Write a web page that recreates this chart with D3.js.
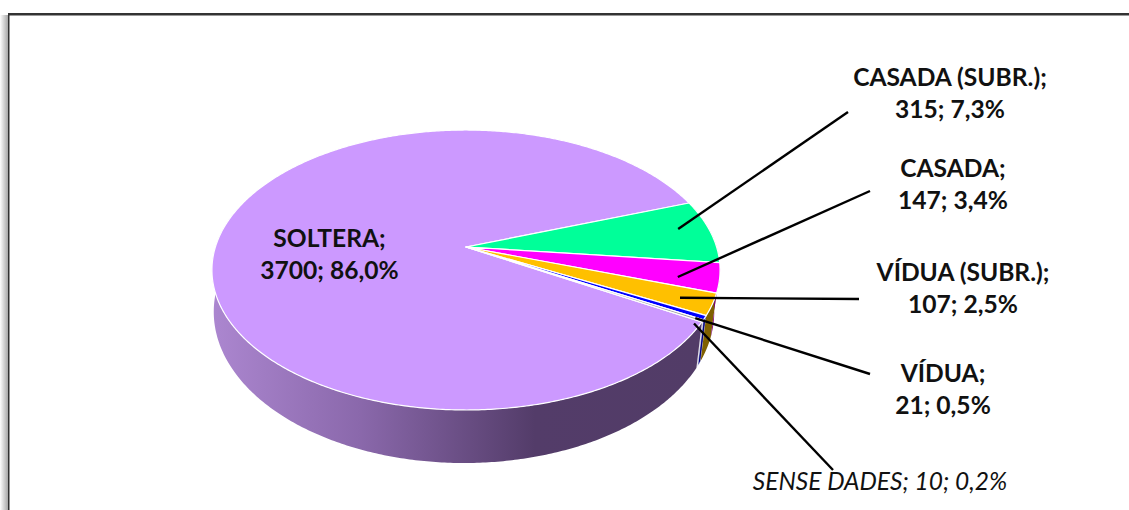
<!DOCTYPE html>
<html>
<head>
<meta charset="utf-8">
<script src="https://cdnjs.cloudflare.com/ajax/libs/d3/7.9.0/d3.min.js"></script>
<style>
    html, body { margin: 0; padding: 0; background: #fff; overflow: hidden; }
    text { font-family: Lato, "Open Sans", sans-serif; fill: #111; }
</style>
</head>
<body>
<div id="chart"></div>
<script>
// values
const categories = ['SOLTERA', 'CASADA (SUBR.)', 'CASADA', 'VÍDUA (SUBR.)', 'VÍDUA', 'SENSE DADES'];
const counts = [3700, 315, 147, 107, 21, 10];
const percents = ['86,0%', '7,3%', '3,4%', '2,5%', '0,5%', '0,2%'];

const topColors = ['#cc99ff', '#00ff99', '#ff00ff', '#ffc000', '#0000ff', '#9a9aa0'];
const wallColors = ['url(#wallGrad)', '#007f4c', '#7f007f', '#7f6000', '#00007f', '#c8c8d8'];

const width = 1129, height = 510;

// pie is tilted with some perspective, so the apex sits above the ellipse centre
const cx = 466, cy = 247;
const radiusX = 250.6, radiusY = 136.2, persp = 0.1643;
const startDeg = 120.3;

// the lower rim of the wall
const bottomCx = 464, bottomScaleX = 0.985, bottomScaleY = 1.08, bottomY = 287;

function project(angle, r = 1) {
    let u = Math.sin(angle) * r, v = -Math.cos(angle) * r;
    let w = 1 - persp * v;
    return [cx + radiusX * u / w, cy + radiusY * v / w];
}

function projectBottom(angle) {
    let p = project(angle);
    return [bottomCx + (p[0] - cx) * bottomScaleX, bottomY + (p[1] - cy) * bottomScaleY];
}

const toRad = Math.PI / 180;
const line = d3.line();

function rimAngles(a0, a1) {
    let n = Math.max(2, Math.ceil(Math.abs(a1 - a0) / 0.01));
    return d3.range(n + 1).map(i => a0 + (a1 - a0) * i / n);
}

const svg = d3.select('#chart').append('svg')
    .attr('width', width)
    .attr('height', height);

const defs = svg.append('defs');

const wallGrad = defs.append('linearGradient')
    .attr('id', 'wallGrad')
    .attr('gradientUnits', 'userSpaceOnUse')
    .attr('x1', 215).attr('x2', 700).attr('y1', 0).attr('y2', 0);
wallGrad.selectAll('stop')
    .data([[0, '#ab86cf'], [0.3, '#8a68ab'], [0.66, '#533c69'], [1, '#523c67']])
    .join('stop')
    .attr('offset', d => d[0])
    .attr('stop-color', d => d[1]);

const shadowLeft = defs.append('linearGradient').attr('id', 'shadowLeft');
shadowLeft.append('stop').attr('offset', 0).attr('stop-color', '#fff');
shadowLeft.append('stop').attr('offset', 1).attr('stop-color', '#a8a8a8');

// frame of the pasted picture: only top and left edges are in view
svg.append('rect')
    .attr('x', 0).attr('y', 15)
    .attr('width', 8).attr('height', height - 15)
    .attr('fill', 'url(#shadowLeft)');
svg.append('rect')
    .attr('x', 8).attr('y', 15)
    .attr('width', width - 8).attr('height', 1)
    .attr('fill', '#999');
svg.append('rect')
    .attr('x', 8).attr('y', 13)
    .attr('width', width - 8).attr('height', 2)
    .attr('fill', '#333');
svg.append('rect')
    .attr('x', 8).attr('y', 13)
    .attr('width', 1.5).attr('height', height - 13)
    .attr('fill', '#333');

const pie = d3.pie()
    .sort(null)
    .startAngle(startDeg * toRad)
    .endAngle((startDeg + 360) * toRad);

const arcs = pie(counts);

// walls first, back to front
const wallSpans = arcs.map((d, i) => {
    // the big slice only shows its wall up to the left edge
    let end = i === 0 ? 285 * toRad : d.endAngle;
    return { i: i, angles: rimAngles(d.startAngle, end) };
});

svg.append('g').selectAll('path')
    .data(wallSpans.slice().reverse())
    .join('path')
    .attr('d', d => line(d.angles.map(a => project(a)).concat(d.angles.slice().reverse().map(projectBottom))) + 'Z')
    .attr('fill', d => wallColors[d.i])
    .attr('stroke', d => d.i > 3 ? '#fff' : 'none')
    .attr('stroke-width', 0.5);

// top faces
svg.append('g').selectAll('path')
    .data(arcs)
    .join('path')
    .attr('d', d => line([[cx, cy]].concat(rimAngles(d.startAngle, d.endAngle).map(a => project(a)))) + 'Z')
    .attr('fill', (d, i) => topColors[i])
    .attr('stroke', '#fff')
    .attr('stroke-width', 1.2)
    .attr('stroke-linejoin', 'round');

// leader lines, from the label side into the slice
const leaderStart = [[848, 112], [870, 191], [859, 299], [870, 374], [833, 470]];
const leaderDeg = [81.1, 104.6, 113.6, 119.7, 121.7];
const leaderDepth = [0.876, 0.843, 0.878, 0.97, 0.979];

svg.append('g').selectAll('line')
    .data(leaderStart)
    .join('line')
    .each(function (d, i) {
        let p = project(leaderDeg[i] * toRad, leaderDepth[i]);
        d3.select(this)
            .attr('x1', d[0]).attr('y1', d[1])
            .attr('x2', p[0]).attr('y2', p[1]);
    })
    .attr('stroke', '#000')
    .attr('stroke-width', 2.4);

// labels
const labelPos = [[329.5, 247], [950, 86], [953, 177], [963, 281], [943, 382]];

const labels = svg.append('g').selectAll('text')
    .data(labelPos)
    .join('text')
    .attr('x', d => d[0])
    .attr('y', d => d[1])
    .attr('text-anchor', 'middle')
    .attr('font-size', 24.6)
    .attr('font-weight', 700);

labels.append('tspan').text((d, i) => categories[i] + ';');
labels.append('tspan')
    .attr('x', d => d[0])
    .attr('dy', 32)
    .text((d, i) => counts[i] + '; ' + percents[i]);

svg.append('text')
    .attr('x', 880).attr('y', 490)
    .attr('text-anchor', 'middle')
    .attr('font-size', 24.5)
    .attr('font-style', 'italic')
    .text(categories[5] + '; ' + counts[5] + '; ' + percents[5]);
</script>
</body>
</html>
